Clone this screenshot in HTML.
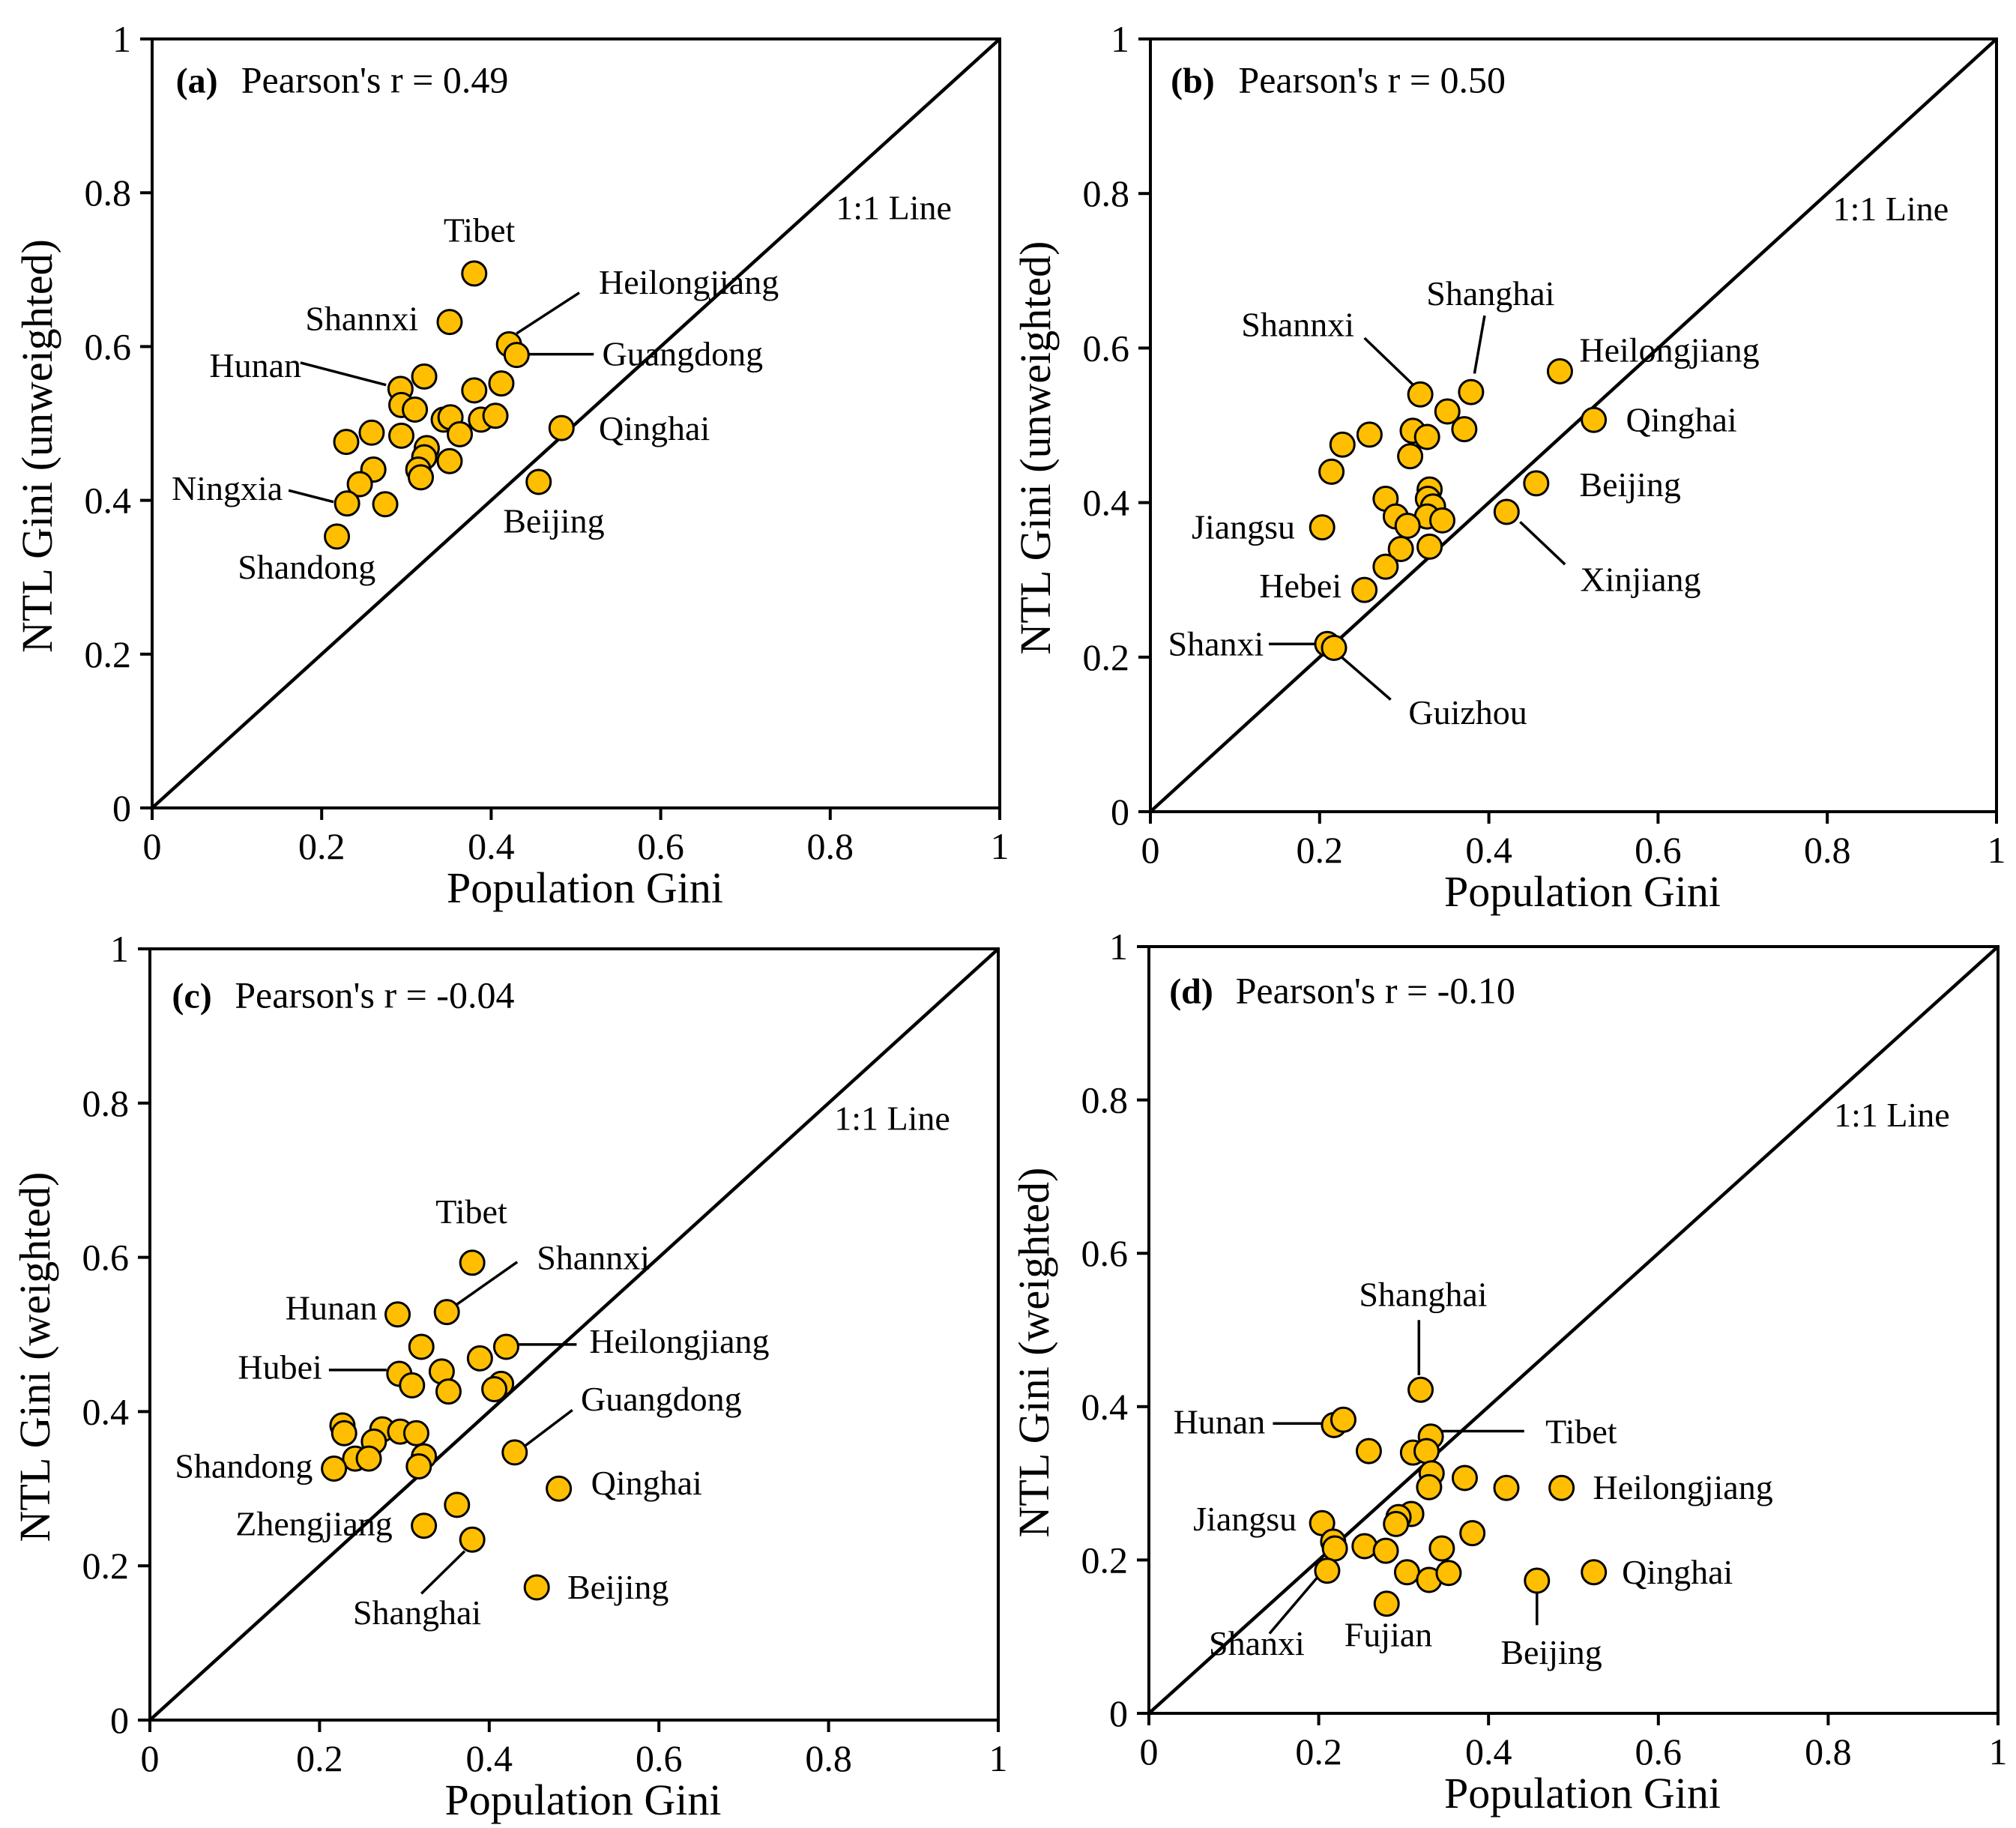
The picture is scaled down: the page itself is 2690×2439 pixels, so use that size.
<!DOCTYPE html>
<html><head><meta charset="utf-8">
<style>
html,body{margin:0;padding:0;background:#fff;}
svg{display:block;font-family:"Liberation Serif",serif;}
</style></head>
<body>
<svg id="fig" width="2690" height="2439" viewBox="0 0 2690 2439" xmlns="http://www.w3.org/2000/svg"></svg>
<script>
// ---- Panel (a) data ----
const popA = [0.380,0.351,0.421,0.430,0.321,0.293,0.380,0.412,0.294,0.310,0.344,0.352,0.388,0.405,0.363,0.483,0.259,0.229,0.294,0.324,0.321,0.314,0.317,0.351,0.261,0.245,0.230,0.275,0.456,0.218];
const ntlA = [0.695,0.632,0.603,0.589,0.561,0.545,0.543,0.552,0.524,0.518,0.505,0.508,0.505,0.510,0.486,0.494,0.488,0.476,0.484,0.468,0.456,0.440,0.430,0.451,0.440,0.421,0.396,0.395,0.424,0.353];
// ---- Panel (b) data ----
const popB = [0.319,0.379,0.484,0.524,0.351,0.310,0.371,0.327,0.259,0.227,0.307,0.214,0.330,0.278,0.328,0.334,0.327,0.290,0.345,0.304,0.203,0.421,0.456,0.330,0.296,0.278,0.253,0.209,0.217];
const ntlB = [0.540,0.543,0.570,0.507,0.518,0.493,0.495,0.485,0.488,0.475,0.460,0.440,0.417,0.405,0.405,0.395,0.382,0.382,0.377,0.370,0.368,0.388,0.425,0.343,0.340,0.317,0.287,0.217,0.212];
// ---- Panel (c) data ----
const popC = [0.380,0.350,0.292,0.320,0.420,0.389,0.344,0.294,0.309,0.414,0.406,0.352,0.227,0.229,0.274,0.295,0.314,0.264,0.323,0.242,0.258,0.317,0.217,0.430,0.482,0.362,0.323,0.380,0.456];
const ntlC = [0.593,0.529,0.526,0.484,0.484,0.469,0.452,0.449,0.434,0.436,0.429,0.426,0.382,0.372,0.377,0.374,0.372,0.361,0.342,0.339,0.339,0.329,0.326,0.347,0.300,0.279,0.252,0.234,0.172];
// ---- Panel (d) data ----
const popD = [0.320,0.218,0.229,0.332,0.259,0.311,0.327,0.333,0.372,0.421,0.486,0.330,0.309,0.294,0.291,0.204,0.217,0.219,0.254,0.279,0.381,0.345,0.210,0.304,0.330,0.353,0.457,0.524,0.280];
const ntlD = [0.422,0.376,0.383,0.361,0.342,0.340,0.342,0.313,0.307,0.294,0.294,0.295,0.260,0.256,0.247,0.248,0.224,0.215,0.218,0.212,0.235,0.215,0.186,0.184,0.174,0.183,0.173,0.184,0.143];
const ticks = [0,0.2,0.4,0.6,0.8,1];
const tickLabels = ["0","0.2","0.4","0.6","0.8","1"];

// labels: [text, x, y, anchor]
const labA = [["Tibet",0.386,0.751,"middle"],["Heilongjiang",0.527,0.683,"start"],["Shannxi",0.314,0.636,"end"],["Guangdong",0.531,0.590,"start"],["Hunan",0.176,0.575,"end"],["Qinghai",0.527,0.493,"start"],["Ningxia",0.154,0.415,"end"],["Beijing",0.414,0.373,"start"],["Shandong",0.101,0.313,"start"]];
const leadA = [[0.504,0.670,0.430,0.617],[0.441,0.590,0.521,0.590],[0.175,0.579,0.276,0.550],[0.161,0.413,0.214,0.398]];
const labB = [["Shanghai",0.402,0.670,"middle"],["Shannxi",0.241,0.630,"end"],["Heilongjiang",0.507,0.597,"start"],["Qinghai",0.562,0.507,"start"],["Beijing",0.507,0.423,"start"],["Jiangsu",0.171,0.368,"end"],["Xinjiang",0.508,0.300,"start"],["Hebei",0.226,0.292,"end"],["Shanxi",0.134,0.217,"end"],["Guizhou",0.305,0.128,"start"]];
const leadB = [[0.395,0.642,0.383,0.567],[0.253,0.613,0.310,0.553],[0.437,0.375,0.490,0.320],[0.140,0.217,0.195,0.217],[0.226,0.200,0.284,0.145]];
const labC = [["Tibet",0.379,0.659,"middle"],["Shannxi",0.456,0.599,"start"],["Hunan",0.268,0.534,"end"],["Heilongjiang",0.518,0.491,"start"],["Hubei",0.203,0.457,"end"],["Guangdong",0.508,0.416,"start"],["Qinghai",0.520,0.307,"start"],["Shandong",0.192,0.329,"end"],["Zhengjiang",0.286,0.254,"end"],["Beijing",0.492,0.172,"start"],["Shanghai",0.315,0.139,"middle"]];
const leadC = [[0.433,0.594,0.358,0.536],[0.430,0.487,0.503,0.487],[0.211,0.454,0.279,0.454],[0.498,0.402,0.438,0.352],[0.320,0.164,0.371,0.219]];
const labD = [["Shanghai",0.323,0.546,"middle"],["Hunan",0.137,0.380,"end"],["Tibet",0.467,0.367,"start"],["Heilongjiang",0.523,0.294,"start"],["Jiangsu",0.174,0.253,"end"],["Qinghai",0.557,0.184,"start"],["Shanxi",0.127,0.091,"middle"],["Fujian",0.282,0.102,"middle"],["Beijing",0.474,0.079,"middle"]];
const leadD = [[0.318,0.513,0.318,0.441],[0.146,0.378,0.207,0.378],[0.339,0.368,0.442,0.368],[0.142,0.104,0.199,0.178],[0.457,0.159,0.457,0.115]];

const panels = [
 {id:"a",x0:203,x1:1334,y0:1078,y1:52,px:popA,py:ntlA,lab:labA,lead:leadA,r:"Pearson's r  = 0.49",ytitle:"NTL Gini (unweighted)",tx:[0.028,0.947,0.105]},
 {id:"b",x0:1535,x1:2664,y0:1083,y1:52,px:popB,py:ntlB,lab:labB,lead:leadB,r:"Pearson's r = 0.50",ytitle:"NTL Gini (unweighted)",tx:[0.024,0.947,0.104]},
 {id:"c",x0:200,x1:1332,y0:2295,y1:1266,px:popC,py:ntlC,lab:labC,lead:leadC,r:"Pearson's r = -0.04",ytitle:"NTL Gini (weighted)",tx:[0.026,0.940,0.100]},
 {id:"d",x0:1533,x1:2666,y0:2286,y1:1263,px:popD,py:ntlD,lab:labD,lead:leadD,r:"Pearson's r = -0.10",ytitle:"NTL Gini (weighted)",tx:[0.024,0.943,0.102]}
];
const NS="http://www.w3.org/2000/svg";
const svg=document.getElementById("fig");
function mk(tag,attrs,parent,txt){const e=document.createElementNS(NS,tag);for(const k in attrs)e.setAttribute(k,attrs[k]);if(txt!==undefined)e.textContent=txt;parent.appendChild(e);return e;}
panels.forEach(p=>{
  const sx=v=>p.x0+v*(p.x1-p.x0), sy=v=>p.y0-v*(p.y0-p.y1);
  const g=mk("g",{},svg);
  
  
  const frame=mk("rect",{x:p.x0,y:p.y1,width:p.x1-p.x0,height:p.y0-p.y1,fill:"none",stroke:"#000","stroke-width":4},g);
  
  
  const diag=mk("line",{x1:sx(0),y1:sy(0),x2:sx(1),y2:sy(1),stroke:"#000","stroke-width":4.5},g);
  
  
  ticks.forEach((t,i)=>{
    const xt=mk("line",{x1:sx(t),y1:p.y0,x2:sx(t),y2:p.y0+16,stroke:"#000","stroke-width":4},g);
    
    
    const yt=mk("line",{x1:p.x0-16,y1:sy(t),x2:p.x0,y2:sy(t),stroke:"#000","stroke-width":4},g);
    
    
    const xl=mk("text",{x:sx(t),y:p.y0+68,"font-size":50,"text-anchor":"middle"},g,tickLabels[i]);
    
    
    const yl=mk("text",{x:p.x0-28,y:sy(t)+17,"font-size":50,"text-anchor":"end"},g,tickLabels[i]);
    
    
  });
  const xtitle=mk("text",{x:(p.x0+p.x1)/2+12,y:p.y0+126,"font-size":58,"text-anchor":"middle"},g,"Population Gini");
  
  
  const cy=(p.y0+p.y1)/2+30, cx=p.x0-134;
  const ytitle=mk("text",{x:cx,y:cy,"font-size":58,"text-anchor":"middle",transform:`rotate(-90 ${cx} ${cy})`},g,p.ytitle);
  
  
  const pl=mk("text",{x:sx(p.tx[0]),y:sy(p.tx[1])+17,"font-size":48,"font-weight":"bold"},g,"("+p.id+")");
  
  
  const rt=mk("text",{x:sx(p.tx[2]),y:sy(p.tx[1])+17,"font-size":50},g,p.r);
  
  
  const ll=mk("text",{x:sx(0.875),y:sy(0.78)+15,"font-size":46,"text-anchor":"middle"},g,"1:1 Line");
  
  
  p.lead.forEach(l=>{
    const ln=mk("line",{x1:sx(l[0]),y1:sy(l[1]),x2:sx(l[2]),y2:sy(l[3]),stroke:"#000","stroke-width":3.5},g);
    
    
  });
  p.px.forEach((v,i)=>{
    const c=mk("circle",{cx:sx(v),cy:sy(p.py[i]),r:16,fill:"#FFBF00",stroke:"#000","stroke-width":3},g);
    
    
  });
  p.lab.forEach(l=>{
    const t=mk("text",{x:sx(l[1]),y:sy(l[2])+15,"font-size":46,"text-anchor":l[3]},g,l[0]);
    
    
  });
});
</script>
</body></html>
